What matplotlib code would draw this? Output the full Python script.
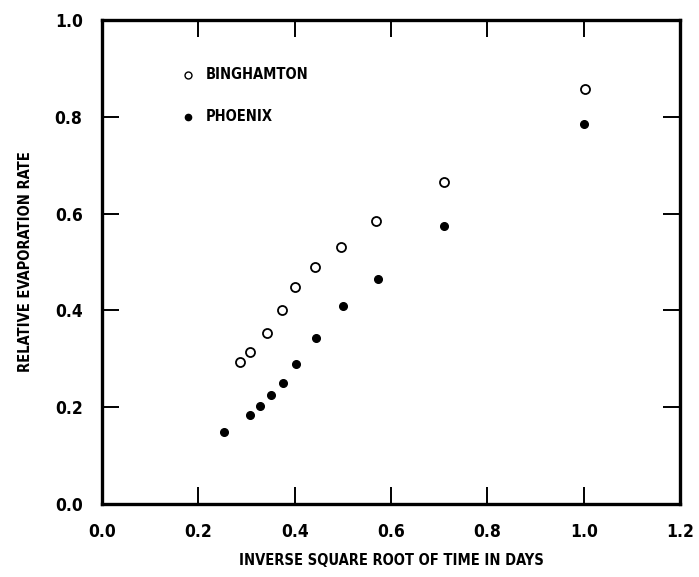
import matplotlib
matplotlib.use("Agg")
import matplotlib.pyplot as plt

plt.rcParams['font.family'] = ['DejaVu Sans']
plt.rcParams['font.stretch'] = 'condensed'
plt.rcParams['font.weight'] = 'bold'
plt.rcParams['axes.labelweight'] = 'bold'

# Binghamton (open circles)
bing_x = [0.286, 0.308, 0.342, 0.373, 0.401, 0.442, 0.497, 0.568, 0.710, 1.002]
bing_y = [0.294, 0.315, 0.354, 0.401, 0.449, 0.490, 0.532, 0.584, 0.666, 0.857]

# Phoenix (filled circles)
phx_x = [0.253, 0.307, 0.327, 0.351, 0.376, 0.402, 0.444, 0.501, 0.572, 0.710, 1.001]
phx_y = [0.148, 0.183, 0.203, 0.226, 0.250, 0.289, 0.344, 0.410, 0.466, 0.575, 0.785]

x_ticks = [0.0, 0.2, 0.4, 0.6, 0.8, 1.0, 1.2]
y_ticks = [0.0, 0.2, 0.4, 0.6, 0.8, 1.0]

fig = plt.figure(figsize=(6.99, 5.77), dpi=100)
ax = fig.add_axes([0.146, 0.1265, 0.827, 0.8385])

ax.plot(bing_x, bing_y, 'o', mfc='white', mec='black', mew=1.3, ms=6.5, linestyle='none')
ax.plot(phx_x, phx_y, 'o', color='black', ms=5.5, linestyle='none')

# legend drawn by hand in data coordinates
ax.plot([0.179], [0.887], 'o', mfc='white', mec='black', mew=1.0, ms=5)
ax.text(0.215, 0.887, 'BINGHAMTON', va='center', ha='left', fontsize=10.5)
ax.plot([0.179], [0.80], 'o', color='black', ms=4.5)
ax.text(0.215, 0.80, 'PHOENIX', va='center', ha='left', fontsize=10.5)

ax.set_xlim(0, 1.2)
ax.set_ylim(0, 1.0)
ax.set_xticks(x_ticks)
ax.set_yticks(y_ticks)
ax.set_xticklabels([f'{t:.1f}' for t in x_ticks], fontsize=12.5)
ax.set_yticklabels([f'{t:.1f}' for t in y_ticks], fontsize=12.5)
ax.tick_params(direction='in', length=12, width=1.4, top=True, right=True, pad=14)

for s in ax.spines.values():
    s.set_linewidth(2.4)

ax.set_xlabel('INVERSE SQUARE ROOT OF TIME IN DAYS', fontsize=10.5, labelpad=8)
ax.set_ylabel('RELATIVE EVAPORATION RATE', fontsize=10.5, labelpad=16)

fig.savefig('out.png', dpi=100)
